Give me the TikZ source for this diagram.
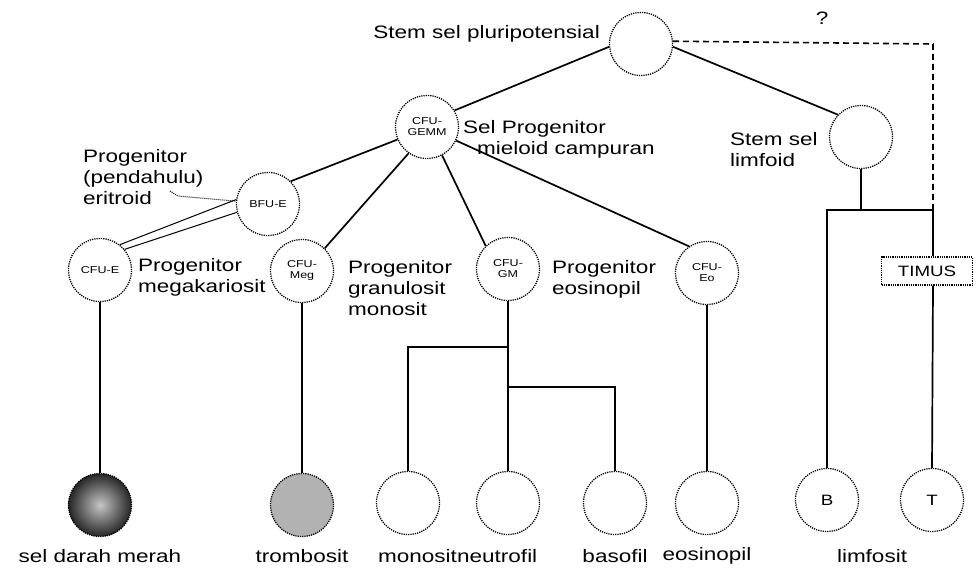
\documentclass[tikz,border=0pt]{standalone}
\usepackage{fontspec}
\setmainfont{Liberation Sans}[FakeStretch=1.25]
\begin{document}
\begin{tikzpicture}[x=1pt,y=-1pt,
  cell/.style={circle, draw, densely dotted, line width=1.25pt, minimum size=63pt, inner sep=0pt,
    font=\fontsize{10}{11}\selectfont, align=center},
  conn/.style={line width=1.7pt},
  thinconn/.style={line width=1pt},
  lbl/.style={font=\fontsize{18}{21}\selectfont, align=left, inner sep=0pt},
  blbl/.style={font=\fontsize{18}{21}\selectfont, inner sep=0pt},
  big/.style={font=\fontsize{15}{17}\selectfont}
]
\useasboundingbox (0,0) rectangle (976,570);

% cells
\node[cell] (top) at (641,44) {};
\node[cell] (lymph) at (861,137) {};
\node[cell] (gemm) at (427,127) {CFU-\\GEMM};
\node[cell] (bfue) at (268,204) {BFU-E};
\node[cell] (cfue) at (100,270) {CFU-E};
\node[cell] (meg) at (302,271) {CFU-\\Meg};
\node[cell] (gm) at (508,269) {CFU-\\GM};
\node[cell] (eo) at (707,273) {CFU-\\Eo};
\node[cell, inner color=gray!45, outer color=black!85] (rbc) at (100,505) {};
\node[cell, fill=gray!60] (trom) at (302,505) {};
\node[cell] (mono) at (408,503) {};
\node[cell] (neu) at (508,503) {};
\node[cell] (baso) at (615,503) {};
\node[cell] (eos) at (707,503) {};
\node[cell, big] (B) at (827,500) {B};
\node[cell, big] (T) at (932,500) {T};
\node[draw, densely dotted, line width=1.25pt, minimum width=91pt, minimum height=28pt, inner sep=0pt, big] (timus) at (927,271) {TIMUS};

% labels
\node[lbl, anchor=east] (ltop) at (600,34) {Stem sel pluripotensial};
\node[lbl] (lq) at (822,18) {?};
\node[lbl, anchor=west] (llym) at (730,150) {Stem sel\\limfoid};
\node[lbl, anchor=west] (lgemm) at (463,139) {Sel Progenitor\\\hspace{14pt}mieloid campuran};
\node[lbl, anchor=west] (lerit) at (83,177) {Progenitor\\(pendahulu)\\eritroid};
\node[lbl, anchor=west] (lmeg) at (138,277) {Progenitor\\megakariosit};
\node[lbl, anchor=west] (lgran) at (348,288) {Progenitor\\granulosit\\monosit};
\node[lbl, anchor=west] (leo) at (552,279) {Progenitor\\eosinopil};

\node[blbl] (trbc) at (100,556) {sel darah merah};
\node[blbl] (ttrom) at (302,556) {trombosit};
\node[blbl, anchor=east] (tmono) at (457,556) {monosit};
\node[blbl, anchor=west] (tneu) at (457,556) {neutrofil};
\node[blbl] (tbaso) at (615,556) {basofil};
\node[blbl] (teos) at (707,556) {eosinopil};
\node[blbl] (tlimf) at (872,556) {limfosit};

% coordinates
\coordinate (dq) at (933,44);
\coordinate (lj) at (861,210);
\coordinate (lb) at (827,210);
\coordinate (lt) at (933,210);
\coordinate (gj) at (508,347);
\coordinate (gj2) at (508,387);
\coordinate (ptr) at (170,191);

% connectors
\draw[conn] (top.185) -- (gemm.31);
\draw[conn] (top.-5) -- (lymph.136);
\draw[dashed, dash pattern=on 6pt off 4pt, line width=1.6pt] (top.5) -- (dq) -- (lt);
\draw[conn] (gemm.203) -- (bfue.45);
\draw[conn] (gemm.235) -- (meg.45);
\draw[conn] (gemm.-62) -- (gm.134);
\draw[conn] (gemm.-25) -- (eo.124);
\draw[thinconn] (cfue.40) -- (bfue.195);
\draw[thinconn] (cfue.52) -- (bfue.172);
\draw[thinconn, densely dotted] (ptr) -- ++(8,5) -- (bfue.175);

\draw[conn] (cfue.south) -- (rbc.north);
\draw[conn] (meg.south) -- (trom.north);
\draw[conn] (eo.south) -- (eos.north);
\draw[conn] (gm.south) -- (neu.north);
\draw[conn] (mono.north) -- (mono.north |- gj) -- (gj);
\draw[conn] (gj2) -- (gj2 -| baso.north) -- (baso.north);

\draw[conn] (lymph.south) -- (lj);
\draw[conn] (B.north) -- (lb) -- (lt) -- (lt |- timus.north);
\draw[conn] (lt |- timus.south) -- (T.north);
\end{tikzpicture}
\end{document}
